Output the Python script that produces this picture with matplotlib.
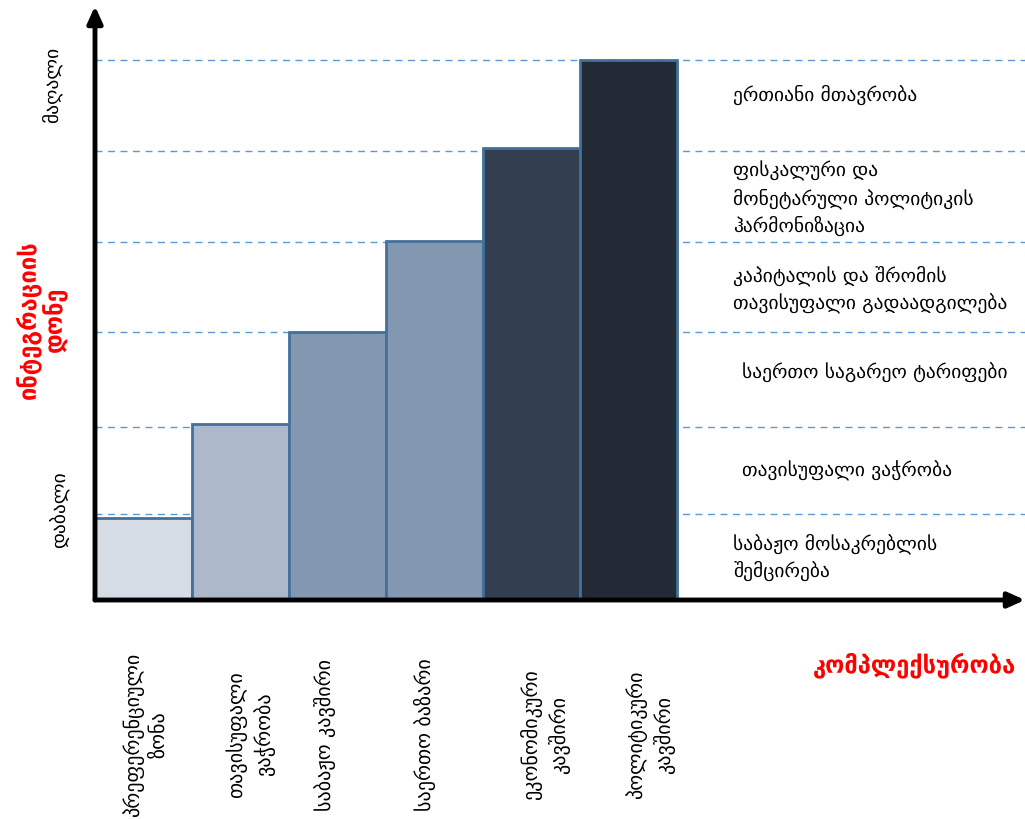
import matplotlib
matplotlib.use("Agg")
import matplotlib.pyplot as plt

# ---- data ----
stages = ["პრეფერენციული\nზონა", "თავისუფალი\nვაჭრობა", "საბაჟო კავშირი",
          "საერთო ბაზარი", "ეკონომიკური\nკავშირი", "პოლიტიკური\nკავშირი"]
integration_level = [0.90, 1.93, 2.95, 3.95, 4.97, 5.93]
features = ["საბაჟო მოსაკრებლის\nშემცირება", "თავისუფალი ვაჭრობა",
            "საერთო საგარეო ტარიფები", "კაპიტალის და შრომის\nთავისუფალი გადაადგილება",
            "ფისკალური და\nმონეტარული პოლიტიკის\nჰარმონიზაცია", "ერთიანი მთავრობა"]
feature_levels = [0.94, 1.90, 2.95, 3.93, 4.93, 5.93]
y_high_label = "მაღალი"
y_low_label = "დაბალი"
y_title = "ინტეგრაციის\nდონე"
x_title = "კომპლექსურობა"

colors = ["#D6DCE5", "#ADB9CA", "#8497B0", "#8497B0", "#333F50", "#222A35"]

plt.rcParams['font.family'] = ['DejaVu Sans']

W, H = 1025, 819
fig = plt.figure(figsize=(W / 100, H / 100), dpi=100)
x0, y0 = 95, 600
ax = fig.add_axes([x0 / W, (H - y0) / H, (W - x0) / W, y0 / H])
ux, uy = 97.0, 91.0
ax.set_xlim(0, (W - x0) / ux)
ax.set_ylim(0, y0 / uy)
ax.axis("off")

xmax = (W - x0) / ux
# dashed guide lines
ax.hlines(feature_levels, 0, xmax, colors="#5B9BD5", linestyles=(0, (5, 4)),
          linewidth=1.0, zorder=1)

# bars (steps)
xs = list(range(len(stages)))
ax.bar(xs, integration_level, width=1.0, align="edge", color=colors,
       edgecolor="#41719C", linewidth=2, zorder=2)

# axes arrows
ax.annotate("", xy=(0, (y0 - 6) / uy), xytext=(0, 0),
            arrowprops=dict(arrowstyle="-|>,head_length=1.0,head_width=0.45",
                            color="black", lw=3.5, shrinkA=0, shrinkB=0),
            annotation_clip=False, zorder=5)
ax.annotate("", xy=(xmax, 0), xytext=(0, 0),
            arrowprops=dict(arrowstyle="-|>,head_length=1.0,head_width=0.45",
                            color="black", lw=3.5, shrinkA=0, shrinkB=0),
            annotation_clip=False, zorder=5)

fs = 14
# right-hand feature labels (layout positions)
feat_x = [6.58, 6.67, 6.67, 6.58, 6.58, 6.58]
feat_y = [0.47, 1.42, 2.49, 3.41, 4.41, 5.55]
for txt, fx, fy in zip(features, feat_x, feat_y):
    ax.text(fx, fy, txt, ha="left", va="center", fontsize=fs,
            linespacing=1.45, color="black")

# bottom stage labels (rotated)
stage_x = [0.52, 1.60, 2.37, 3.40, 4.64, 5.72]
for txt, sx in zip(stages, stage_x):
    ax.text(sx, -1.48, txt, ha="center", va="center", rotation=90,
            fontsize=14.5, multialignment="center", linespacing=1.35,
            clip_on=False)

# y end labels
ax.text(-0.44, 5.66, y_high_label, rotation=90, ha="center", va="center",
        fontsize=fs)
ax.text(-0.36, 0.99, y_low_label, rotation=90, ha="center", va="center",
        fontsize=fs)

# axis titles
ax.text(-0.55, 3.08, y_title, rotation=90, ha="center", va="center",
        fontsize=17, fontweight="bold", color="#FF0000",
        multialignment="center", linespacing=1.1)
ax.text(8.45, -0.71, x_title, ha="center", va="center", fontsize=17,
        fontweight="bold", color="#FF0000")

fig.savefig("out.png", dpi=100)
